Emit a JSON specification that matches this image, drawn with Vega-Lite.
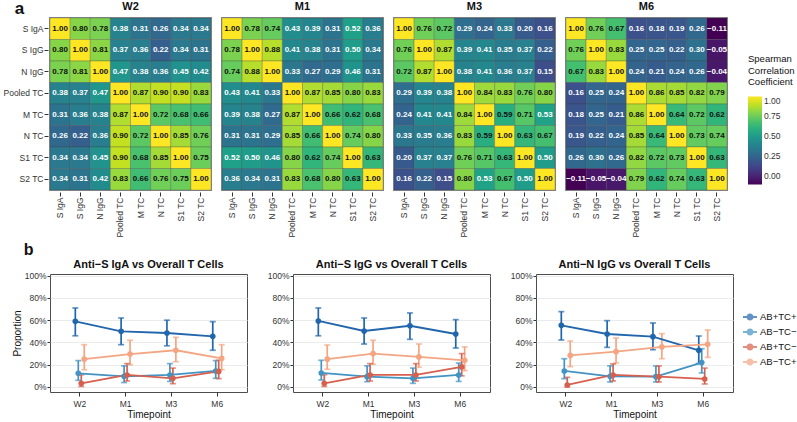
{
  "$schema": "https://vega.github.io/schema/vega-lite/v6.json",
  "padding": {"left": 2, "top": 0, "right": 0, "bottom": 0},
  "datasets": {
    "corr": [
      {"t":"W2","r":"S IgA","c":"S IgA","v":1.00},{"t":"W2","r":"S IgA","c":"S IgG","v":0.80},{"t":"W2","r":"S IgA","c":"N IgG","v":0.78},{"t":"W2","r":"S IgA","c":"Pooled TC","v":0.38},{"t":"W2","r":"S IgA","c":"M TC","v":0.31},{"t":"W2","r":"S IgA","c":"N TC","v":0.26},{"t":"W2","r":"S IgA","c":"S1 TC","v":0.34},{"t":"W2","r":"S IgA","c":"S2 TC","v":0.34},
      {"t":"W2","r":"S IgG","c":"S IgA","v":0.80},{"t":"W2","r":"S IgG","c":"S IgG","v":1.00},{"t":"W2","r":"S IgG","c":"N IgG","v":0.81},{"t":"W2","r":"S IgG","c":"Pooled TC","v":0.37},{"t":"W2","r":"S IgG","c":"M TC","v":0.36},{"t":"W2","r":"S IgG","c":"N TC","v":0.22},{"t":"W2","r":"S IgG","c":"S1 TC","v":0.34},{"t":"W2","r":"S IgG","c":"S2 TC","v":0.31},
      {"t":"W2","r":"N IgG","c":"S IgA","v":0.78},{"t":"W2","r":"N IgG","c":"S IgG","v":0.81},{"t":"W2","r":"N IgG","c":"N IgG","v":1.00},{"t":"W2","r":"N IgG","c":"Pooled TC","v":0.47},{"t":"W2","r":"N IgG","c":"M TC","v":0.38},{"t":"W2","r":"N IgG","c":"N TC","v":0.36},{"t":"W2","r":"N IgG","c":"S1 TC","v":0.45},{"t":"W2","r":"N IgG","c":"S2 TC","v":0.42},
      {"t":"W2","r":"Pooled TC","c":"S IgA","v":0.38},{"t":"W2","r":"Pooled TC","c":"S IgG","v":0.37},{"t":"W2","r":"Pooled TC","c":"N IgG","v":0.47},{"t":"W2","r":"Pooled TC","c":"Pooled TC","v":1.00},{"t":"W2","r":"Pooled TC","c":"M TC","v":0.87},{"t":"W2","r":"Pooled TC","c":"N TC","v":0.90},{"t":"W2","r":"Pooled TC","c":"S1 TC","v":0.90},{"t":"W2","r":"Pooled TC","c":"S2 TC","v":0.83},
      {"t":"W2","r":"M TC","c":"S IgA","v":0.31},{"t":"W2","r":"M TC","c":"S IgG","v":0.36},{"t":"W2","r":"M TC","c":"N IgG","v":0.38},{"t":"W2","r":"M TC","c":"Pooled TC","v":0.87},{"t":"W2","r":"M TC","c":"M TC","v":1.00},{"t":"W2","r":"M TC","c":"N TC","v":0.72},{"t":"W2","r":"M TC","c":"S1 TC","v":0.68},{"t":"W2","r":"M TC","c":"S2 TC","v":0.66},
      {"t":"W2","r":"N TC","c":"S IgA","v":0.26},{"t":"W2","r":"N TC","c":"S IgG","v":0.22},{"t":"W2","r":"N TC","c":"N IgG","v":0.36},{"t":"W2","r":"N TC","c":"Pooled TC","v":0.90},{"t":"W2","r":"N TC","c":"M TC","v":0.72},{"t":"W2","r":"N TC","c":"N TC","v":1.00},{"t":"W2","r":"N TC","c":"S1 TC","v":0.85},{"t":"W2","r":"N TC","c":"S2 TC","v":0.76},
      {"t":"W2","r":"S1 TC","c":"S IgA","v":0.34},{"t":"W2","r":"S1 TC","c":"S IgG","v":0.34},{"t":"W2","r":"S1 TC","c":"N IgG","v":0.45},{"t":"W2","r":"S1 TC","c":"Pooled TC","v":0.90},{"t":"W2","r":"S1 TC","c":"M TC","v":0.68},{"t":"W2","r":"S1 TC","c":"N TC","v":0.85},{"t":"W2","r":"S1 TC","c":"S1 TC","v":1.00},{"t":"W2","r":"S1 TC","c":"S2 TC","v":0.75},
      {"t":"W2","r":"S2 TC","c":"S IgA","v":0.34},{"t":"W2","r":"S2 TC","c":"S IgG","v":0.31},{"t":"W2","r":"S2 TC","c":"N IgG","v":0.42},{"t":"W2","r":"S2 TC","c":"Pooled TC","v":0.83},{"t":"W2","r":"S2 TC","c":"M TC","v":0.66},{"t":"W2","r":"S2 TC","c":"N TC","v":0.76},{"t":"W2","r":"S2 TC","c":"S1 TC","v":0.75},{"t":"W2","r":"S2 TC","c":"S2 TC","v":1.00},

      {"t":"M1","r":"S IgA","c":"S IgA","v":1.00},{"t":"M1","r":"S IgA","c":"S IgG","v":0.78},{"t":"M1","r":"S IgA","c":"N IgG","v":0.74},{"t":"M1","r":"S IgA","c":"Pooled TC","v":0.43},{"t":"M1","r":"S IgA","c":"M TC","v":0.39},{"t":"M1","r":"S IgA","c":"N TC","v":0.31},{"t":"M1","r":"S IgA","c":"S1 TC","v":0.52},{"t":"M1","r":"S IgA","c":"S2 TC","v":0.36},
      {"t":"M1","r":"S IgG","c":"S IgA","v":0.78},{"t":"M1","r":"S IgG","c":"S IgG","v":1.00},{"t":"M1","r":"S IgG","c":"N IgG","v":0.88},{"t":"M1","r":"S IgG","c":"Pooled TC","v":0.41},{"t":"M1","r":"S IgG","c":"M TC","v":0.38},{"t":"M1","r":"S IgG","c":"N TC","v":0.31},{"t":"M1","r":"S IgG","c":"S1 TC","v":0.50},{"t":"M1","r":"S IgG","c":"S2 TC","v":0.34},
      {"t":"M1","r":"N IgG","c":"S IgA","v":0.74},{"t":"M1","r":"N IgG","c":"S IgG","v":0.88},{"t":"M1","r":"N IgG","c":"N IgG","v":1.00},{"t":"M1","r":"N IgG","c":"Pooled TC","v":0.33},{"t":"M1","r":"N IgG","c":"M TC","v":0.27},{"t":"M1","r":"N IgG","c":"N TC","v":0.29},{"t":"M1","r":"N IgG","c":"S1 TC","v":0.46},{"t":"M1","r":"N IgG","c":"S2 TC","v":0.31},
      {"t":"M1","r":"Pooled TC","c":"S IgA","v":0.43},{"t":"M1","r":"Pooled TC","c":"S IgG","v":0.41},{"t":"M1","r":"Pooled TC","c":"N IgG","v":0.33},{"t":"M1","r":"Pooled TC","c":"Pooled TC","v":1.00},{"t":"M1","r":"Pooled TC","c":"M TC","v":0.87},{"t":"M1","r":"Pooled TC","c":"N TC","v":0.85},{"t":"M1","r":"Pooled TC","c":"S1 TC","v":0.80},{"t":"M1","r":"Pooled TC","c":"S2 TC","v":0.83},
      {"t":"M1","r":"M TC","c":"S IgA","v":0.39},{"t":"M1","r":"M TC","c":"S IgG","v":0.38},{"t":"M1","r":"M TC","c":"N IgG","v":0.27},{"t":"M1","r":"M TC","c":"Pooled TC","v":0.87},{"t":"M1","r":"M TC","c":"M TC","v":1.00},{"t":"M1","r":"M TC","c":"N TC","v":0.66},{"t":"M1","r":"M TC","c":"S1 TC","v":0.62},{"t":"M1","r":"M TC","c":"S2 TC","v":0.68},
      {"t":"M1","r":"N TC","c":"S IgA","v":0.31},{"t":"M1","r":"N TC","c":"S IgG","v":0.31},{"t":"M1","r":"N TC","c":"N IgG","v":0.29},{"t":"M1","r":"N TC","c":"Pooled TC","v":0.85},{"t":"M1","r":"N TC","c":"M TC","v":0.66},{"t":"M1","r":"N TC","c":"N TC","v":1.00},{"t":"M1","r":"N TC","c":"S1 TC","v":0.74},{"t":"M1","r":"N TC","c":"S2 TC","v":0.80},
      {"t":"M1","r":"S1 TC","c":"S IgA","v":0.52},{"t":"M1","r":"S1 TC","c":"S IgG","v":0.50},{"t":"M1","r":"S1 TC","c":"N IgG","v":0.46},{"t":"M1","r":"S1 TC","c":"Pooled TC","v":0.80},{"t":"M1","r":"S1 TC","c":"M TC","v":0.62},{"t":"M1","r":"S1 TC","c":"N TC","v":0.74},{"t":"M1","r":"S1 TC","c":"S1 TC","v":1.00},{"t":"M1","r":"S1 TC","c":"S2 TC","v":0.63},
      {"t":"M1","r":"S2 TC","c":"S IgA","v":0.36},{"t":"M1","r":"S2 TC","c":"S IgG","v":0.34},{"t":"M1","r":"S2 TC","c":"N IgG","v":0.31},{"t":"M1","r":"S2 TC","c":"Pooled TC","v":0.83},{"t":"M1","r":"S2 TC","c":"M TC","v":0.68},{"t":"M1","r":"S2 TC","c":"N TC","v":0.80},{"t":"M1","r":"S2 TC","c":"S1 TC","v":0.63},{"t":"M1","r":"S2 TC","c":"S2 TC","v":1.00},

      {"t":"M3","r":"S IgA","c":"S IgA","v":1.00},{"t":"M3","r":"S IgA","c":"S IgG","v":0.76},{"t":"M3","r":"S IgA","c":"N IgG","v":0.72},{"t":"M3","r":"S IgA","c":"Pooled TC","v":0.29},{"t":"M3","r":"S IgA","c":"M TC","v":0.24},{"t":"M3","r":"S IgA","c":"N TC","v":0.33},{"t":"M3","r":"S IgA","c":"S1 TC","v":0.20},{"t":"M3","r":"S IgA","c":"S2 TC","v":0.16},
      {"t":"M3","r":"S IgG","c":"S IgA","v":0.76},{"t":"M3","r":"S IgG","c":"S IgG","v":1.00},{"t":"M3","r":"S IgG","c":"N IgG","v":0.87},{"t":"M3","r":"S IgG","c":"Pooled TC","v":0.39},{"t":"M3","r":"S IgG","c":"M TC","v":0.41},{"t":"M3","r":"S IgG","c":"N TC","v":0.35},{"t":"M3","r":"S IgG","c":"S1 TC","v":0.37},{"t":"M3","r":"S IgG","c":"S2 TC","v":0.22},
      {"t":"M3","r":"N IgG","c":"S IgA","v":0.72},{"t":"M3","r":"N IgG","c":"S IgG","v":0.87},{"t":"M3","r":"N IgG","c":"N IgG","v":1.00},{"t":"M3","r":"N IgG","c":"Pooled TC","v":0.38},{"t":"M3","r":"N IgG","c":"M TC","v":0.41},{"t":"M3","r":"N IgG","c":"N TC","v":0.36},{"t":"M3","r":"N IgG","c":"S1 TC","v":0.37},{"t":"M3","r":"N IgG","c":"S2 TC","v":0.15},
      {"t":"M3","r":"Pooled TC","c":"S IgA","v":0.29},{"t":"M3","r":"Pooled TC","c":"S IgG","v":0.39},{"t":"M3","r":"Pooled TC","c":"N IgG","v":0.38},{"t":"M3","r":"Pooled TC","c":"Pooled TC","v":1.00},{"t":"M3","r":"Pooled TC","c":"M TC","v":0.84},{"t":"M3","r":"Pooled TC","c":"N TC","v":0.83},{"t":"M3","r":"Pooled TC","c":"S1 TC","v":0.76},{"t":"M3","r":"Pooled TC","c":"S2 TC","v":0.80},
      {"t":"M3","r":"M TC","c":"S IgA","v":0.24},{"t":"M3","r":"M TC","c":"S IgG","v":0.41},{"t":"M3","r":"M TC","c":"N IgG","v":0.41},{"t":"M3","r":"M TC","c":"Pooled TC","v":0.84},{"t":"M3","r":"M TC","c":"M TC","v":1.00},{"t":"M3","r":"M TC","c":"N TC","v":0.59},{"t":"M3","r":"M TC","c":"S1 TC","v":0.71},{"t":"M3","r":"M TC","c":"S2 TC","v":0.53},
      {"t":"M3","r":"N TC","c":"S IgA","v":0.33},{"t":"M3","r":"N TC","c":"S IgG","v":0.35},{"t":"M3","r":"N TC","c":"N IgG","v":0.36},{"t":"M3","r":"N TC","c":"Pooled TC","v":0.83},{"t":"M3","r":"N TC","c":"M TC","v":0.59},{"t":"M3","r":"N TC","c":"N TC","v":1.00},{"t":"M3","r":"N TC","c":"S1 TC","v":0.63},{"t":"M3","r":"N TC","c":"S2 TC","v":0.67},
      {"t":"M3","r":"S1 TC","c":"S IgA","v":0.20},{"t":"M3","r":"S1 TC","c":"S IgG","v":0.37},{"t":"M3","r":"S1 TC","c":"N IgG","v":0.37},{"t":"M3","r":"S1 TC","c":"Pooled TC","v":0.76},{"t":"M3","r":"S1 TC","c":"M TC","v":0.71},{"t":"M3","r":"S1 TC","c":"N TC","v":0.63},{"t":"M3","r":"S1 TC","c":"S1 TC","v":1.00},{"t":"M3","r":"S1 TC","c":"S2 TC","v":0.50},
      {"t":"M3","r":"S2 TC","c":"S IgA","v":0.16},{"t":"M3","r":"S2 TC","c":"S IgG","v":0.22},{"t":"M3","r":"S2 TC","c":"N IgG","v":0.15},{"t":"M3","r":"S2 TC","c":"Pooled TC","v":0.80},{"t":"M3","r":"S2 TC","c":"M TC","v":0.53},{"t":"M3","r":"S2 TC","c":"N TC","v":0.67},{"t":"M3","r":"S2 TC","c":"S1 TC","v":0.50},{"t":"M3","r":"S2 TC","c":"S2 TC","v":1.00},

      {"t":"M6","r":"S IgA","c":"S IgA","v":1.00},{"t":"M6","r":"S IgA","c":"S IgG","v":0.76},{"t":"M6","r":"S IgA","c":"N IgG","v":0.67},{"t":"M6","r":"S IgA","c":"Pooled TC","v":0.16},{"t":"M6","r":"S IgA","c":"M TC","v":0.18},{"t":"M6","r":"S IgA","c":"N TC","v":0.19},{"t":"M6","r":"S IgA","c":"S1 TC","v":0.26},{"t":"M6","r":"S IgA","c":"S2 TC","v":-0.11},
      {"t":"M6","r":"S IgG","c":"S IgA","v":0.76},{"t":"M6","r":"S IgG","c":"S IgG","v":1.00},{"t":"M6","r":"S IgG","c":"N IgG","v":0.83},{"t":"M6","r":"S IgG","c":"Pooled TC","v":0.25},{"t":"M6","r":"S IgG","c":"M TC","v":0.25},{"t":"M6","r":"S IgG","c":"N TC","v":0.22},{"t":"M6","r":"S IgG","c":"S1 TC","v":0.30},{"t":"M6","r":"S IgG","c":"S2 TC","v":-0.05},
      {"t":"M6","r":"N IgG","c":"S IgA","v":0.67},{"t":"M6","r":"N IgG","c":"S IgG","v":0.83},{"t":"M6","r":"N IgG","c":"N IgG","v":1.00},{"t":"M6","r":"N IgG","c":"Pooled TC","v":0.24},{"t":"M6","r":"N IgG","c":"M TC","v":0.21},{"t":"M6","r":"N IgG","c":"N TC","v":0.24},{"t":"M6","r":"N IgG","c":"S1 TC","v":0.26},{"t":"M6","r":"N IgG","c":"S2 TC","v":-0.04},
      {"t":"M6","r":"Pooled TC","c":"S IgA","v":0.16},{"t":"M6","r":"Pooled TC","c":"S IgG","v":0.25},{"t":"M6","r":"Pooled TC","c":"N IgG","v":0.24},{"t":"M6","r":"Pooled TC","c":"Pooled TC","v":1.00},{"t":"M6","r":"Pooled TC","c":"M TC","v":0.86},{"t":"M6","r":"Pooled TC","c":"N TC","v":0.85},{"t":"M6","r":"Pooled TC","c":"S1 TC","v":0.82},{"t":"M6","r":"Pooled TC","c":"S2 TC","v":0.79},
      {"t":"M6","r":"M TC","c":"S IgA","v":0.18},{"t":"M6","r":"M TC","c":"S IgG","v":0.25},{"t":"M6","r":"M TC","c":"N IgG","v":0.21},{"t":"M6","r":"M TC","c":"Pooled TC","v":0.86},{"t":"M6","r":"M TC","c":"M TC","v":1.00},{"t":"M6","r":"M TC","c":"N TC","v":0.64},{"t":"M6","r":"M TC","c":"S1 TC","v":0.72},{"t":"M6","r":"M TC","c":"S2 TC","v":0.62},
      {"t":"M6","r":"N TC","c":"S IgA","v":0.19},{"t":"M6","r":"N TC","c":"S IgG","v":0.22},{"t":"M6","r":"N TC","c":"N IgG","v":0.24},{"t":"M6","r":"N TC","c":"Pooled TC","v":0.85},{"t":"M6","r":"N TC","c":"M TC","v":0.64},{"t":"M6","r":"N TC","c":"N TC","v":1.00},{"t":"M6","r":"N TC","c":"S1 TC","v":0.73},{"t":"M6","r":"N TC","c":"S2 TC","v":0.74},
      {"t":"M6","r":"S1 TC","c":"S IgA","v":0.26},{"t":"M6","r":"S1 TC","c":"S IgG","v":0.30},{"t":"M6","r":"S1 TC","c":"N IgG","v":0.26},{"t":"M6","r":"S1 TC","c":"Pooled TC","v":0.82},{"t":"M6","r":"S1 TC","c":"M TC","v":0.72},{"t":"M6","r":"S1 TC","c":"N TC","v":0.73},{"t":"M6","r":"S1 TC","c":"S1 TC","v":1.00},{"t":"M6","r":"S1 TC","c":"S2 TC","v":0.63},
      {"t":"M6","r":"S2 TC","c":"S IgA","v":-0.11},{"t":"M6","r":"S2 TC","c":"S IgG","v":-0.05},{"t":"M6","r":"S2 TC","c":"N IgG","v":-0.04},{"t":"M6","r":"S2 TC","c":"Pooled TC","v":0.79},{"t":"M6","r":"S2 TC","c":"M TC","v":0.62},{"t":"M6","r":"S2 TC","c":"N TC","v":0.74},{"t":"M6","r":"S2 TC","c":"S1 TC","v":0.63},{"t":"M6","r":"S2 TC","c":"S2 TC","v":1.00}
    ],
    "prop": [
      {"p":"A","g":"AB+TC+","tp":"W2","m":0.59,"lo":0.46,"hi":0.71},
      {"p":"A","g":"AB+TC+","tp":"M1","m":0.50,"lo":0.38,"hi":0.62},
      {"p":"A","g":"AB+TC+","tp":"M3","m":0.485,"lo":0.37,"hi":0.60},
      {"p":"A","g":"AB+TC+","tp":"M6","m":0.455,"lo":0.33,"hi":0.587},
      {"p":"A","g":"AB−TC−","tp":"W2","m":0.123,"lo":0.06,"hi":0.237},
      {"p":"A","g":"AB−TC−","tp":"M1","m":0.096,"lo":0.04,"hi":0.19},
      {"p":"A","g":"AB−TC−","tp":"M3","m":0.108,"lo":0.05,"hi":0.21},
      {"p":"A","g":"AB−TC−","tp":"M6","m":0.144,"lo":0.078,"hi":0.237},
      {"p":"A","g":"AB+TC−","tp":"W2","m":0.033,"lo":0.005,"hi":0.11},
      {"p":"A","g":"AB+TC−","tp":"M1","m":0.108,"lo":0.054,"hi":0.21},
      {"p":"A","g":"AB+TC−","tp":"M3","m":0.078,"lo":0.03,"hi":0.17},
      {"p":"A","g":"AB+TC−","tp":"M6","m":0.14,"lo":0.075,"hi":0.24},
      {"p":"A","g":"AB−TC+","tp":"W2","m":0.25,"lo":0.155,"hi":0.38},
      {"p":"A","g":"AB−TC+","tp":"M1","m":0.296,"lo":0.20,"hi":0.42},
      {"p":"A","g":"AB−TC+","tp":"M3","m":0.33,"lo":0.227,"hi":0.446},
      {"p":"A","g":"AB−TC+","tp":"M6","m":0.257,"lo":0.155,"hi":0.38},
      {"p":"B","g":"AB+TC+","tp":"W2","m":0.593,"lo":0.46,"hi":0.71},
      {"p":"B","g":"AB+TC+","tp":"M1","m":0.503,"lo":0.386,"hi":0.62},
      {"p":"B","g":"AB+TC+","tp":"M3","m":0.55,"lo":0.428,"hi":0.665},
      {"p":"B","g":"AB+TC+","tp":"M6","m":0.476,"lo":0.35,"hi":0.605},
      {"p":"B","g":"AB−TC−","tp":"W2","m":0.126,"lo":0.063,"hi":0.24},
      {"p":"B","g":"AB−TC−","tp":"M1","m":0.093,"lo":0.048,"hi":0.19},
      {"p":"B","g":"AB−TC−","tp":"M3","m":0.078,"lo":0.033,"hi":0.17},
      {"p":"B","g":"AB−TC−","tp":"M6","m":0.108,"lo":0.05,"hi":0.215},
      {"p":"B","g":"AB+TC−","tp":"W2","m":0.033,"lo":0.005,"hi":0.11},
      {"p":"B","g":"AB+TC−","tp":"M1","m":0.108,"lo":0.054,"hi":0.21},
      {"p":"B","g":"AB+TC−","tp":"M3","m":0.108,"lo":0.054,"hi":0.21},
      {"p":"B","g":"AB+TC−","tp":"M6","m":0.18,"lo":0.10,"hi":0.30},
      {"p":"B","g":"AB−TC+","tp":"W2","m":0.25,"lo":0.159,"hi":0.377},
      {"p":"B","g":"AB−TC+","tp":"M1","m":0.30,"lo":0.204,"hi":0.42},
      {"p":"B","g":"AB−TC+","tp":"M3","m":0.27,"lo":0.177,"hi":0.386},
      {"p":"B","g":"AB−TC+","tp":"M6","m":0.24,"lo":0.147,"hi":0.36},
      {"p":"C","g":"AB+TC+","tp":"W2","m":0.554,"lo":0.422,"hi":0.677},
      {"p":"C","g":"AB+TC+","tp":"M1","m":0.476,"lo":0.356,"hi":0.596},
      {"p":"C","g":"AB+TC+","tp":"M3","m":0.452,"lo":0.335,"hi":0.575},
      {"p":"C","g":"AB+TC+","tp":"M6","m":0.329,"lo":0.21,"hi":0.458},
      {"p":"C","g":"AB−TC−","tp":"W2","m":0.144,"lo":0.075,"hi":0.254},
      {"p":"C","g":"AB−TC−","tp":"M1","m":0.096,"lo":0.045,"hi":0.19},
      {"p":"C","g":"AB−TC−","tp":"M3","m":0.093,"lo":0.045,"hi":0.189},
      {"p":"C","g":"AB−TC−","tp":"M6","m":0.219,"lo":0.126,"hi":0.344},
      {"p":"C","g":"AB+TC−","tp":"W2","m":0.018,"lo":0.0,"hi":0.087},
      {"p":"C","g":"AB+TC−","tp":"M1","m":0.108,"lo":0.054,"hi":0.207},
      {"p":"C","g":"AB+TC−","tp":"M3","m":0.093,"lo":0.045,"hi":0.189},
      {"p":"C","g":"AB+TC−","tp":"M6","m":0.072,"lo":0.027,"hi":0.17},
      {"p":"C","g":"AB−TC+","tp":"W2","m":0.284,"lo":0.183,"hi":0.413},
      {"p":"C","g":"AB−TC+","tp":"M1","m":0.317,"lo":0.216,"hi":0.44},
      {"p":"C","g":"AB−TC+","tp":"M3","m":0.36,"lo":0.254,"hi":0.479},
      {"p":"C","g":"AB−TC+","tp":"M6","m":0.383,"lo":0.266,"hi":0.512}
    ]
  },
  "spacing": 4,
  "resolve": {"scale": {"color": "independent"}},
  "vconcat": [
    {
      "data": {"name": "corr"},
      "title": {"text": "a", "anchor": "start", "frame": "bounds", "fontSize": 17, "fontWeight": "bold", "dx": 12, "offset": -17},
      "facet": {"column": {"field": "t", "type": "nominal", "sort": ["W2", "M1", "M3", "M6"], "header": {"title": null, "labelFontSize": 11, "labelFontWeight": "bold", "labelPadding": 4, "labelColor": "#111"}}},
      "spacing": {"column": 7},
      "spec": {
        "width": 161,
        "height": 172,
        "view": {"stroke": "#8a8a8a", "strokeWidth": 2},
        "encoding": {
          "x": {"field": "c", "type": "nominal", "sort": ["S IgA", "S IgG", "N IgG", "Pooled TC", "M TC", "N TC", "S1 TC", "S2 TC"], "axis": {"title": null, "labelAngle": -90, "tickSize": 4, "labelPadding": 1, "domain": false}},
          "y": {"field": "r", "type": "nominal", "sort": ["S IgA", "S IgG", "N IgG", "Pooled TC", "M TC", "N TC", "S1 TC", "S2 TC"], "axis": {"title": null, "tickSize": 4, "domain": false}}
        },
        "layer": [
          {
            "mark": {"type": "rect", "stroke": "#3a3a3a", "strokeWidth": 0.4, "strokeOpacity": 0.7},
            "encoding": {
              "color": {"field": "v", "type": "quantitative", "scale": {"scheme": "viridis", "domain": [-0.11, 1]},
                "legend": {"title": ["Spearman", "Correlation", "Coefficient"], "values": [0, 0.25, 0.5, 0.75, 1], "format": ".2f", "gradientLength": 88, "gradientThickness": 14, "titleFontSize": 9.5, "titleFontWeight": "normal", "titleColor": "#111", "labelFontSize": 8.5, "labelColor": "#333", "titlePadding": 10, "offset": 19}}
            }
          },
          {
            "mark": {"type": "text", "fontSize": 8, "fontWeight": "bold"},
            "encoding": {
              "text": {"field": "v", "type": "quantitative", "format": ".2f"},
              "color": {"condition": {"test": "datum.v > 0.56", "value": "#111111"}, "value": "#ffffff"}
            }
          }
        ]
      }
    },
    {
      "title": {"text": "b", "anchor": "start", "frame": "bounds", "fontSize": 16, "fontWeight": "bold", "dx": 12, "offset": 0},
      "data": {"name": "prop"},
      "spacing": 18,
      "resolve": {"scale": {"color": "shared"}},
      "hconcat": [
        {
          "width": 197, "height": 118,
          "title": {"text": "Anti−S IgA vs Overall T Cells"},
          "transform": [{"filter": "datum.p == 'A'"}],
          "encoding": {
            "x": {"field": "tp", "type": "ordinal", "sort": ["W2", "M1", "M3", "M6"], "scale": {"paddingInner": 0.74, "paddingOuter": 0.52}, "axis": {"title": "Timepoint", "labelAngle": 0, "tickSize": 4, "labelPadding": 3, "titlePadding": 2}},
            "xOffset": {"field": "g", "type": "nominal", "sort": ["AB+TC+", "AB−TC−", "AB+TC−", "AB−TC+"], "scale": {"paddingInner": 0, "paddingOuter": 0}},
            "color": {"field": "g", "type": "nominal", "scale": {"domain": ["AB+TC+", "AB−TC−", "AB+TC−", "AB−TC+"], "range": ["#2166AC", "#4393C3", "#D6604D", "#F4A582"]},
              "legend": {"title": null, "padding": 0, "rowPadding": 0, "labelFontSize": 9.5, "labelColor": "#111", "labelOffset": 2, "symbolType": "M-1,0L1,0M-0.38,0a0.38,0.38 0 1,0 0.76,0a0.38,0.38 0 1,0 -0.76,0", "symbolSize": 196, "symbolStrokeWidth": 1.8, "offset": 8}}
          },
          "layer": [
            {"mark": {"type": "rule", "strokeWidth": 1.7}, "encoding": {"y": {"field": "lo", "type": "quantitative", "scale": {"domain": [-0.045, 1.015], "nice": false}, "axis": {"title": "Proportion", "values": [0, 0.2, 0.4, 0.6, 0.8, 1], "format": ".0%", "grid": true}}, "y2": {"field": "hi"}}},
            {"mark": {"type": "tick", "size": 6, "thickness": 1.7}, "encoding": {"y": {"field": "lo", "type": "quantitative", "axis": {"title": "Proportion", "values": [0, 0.2, 0.4, 0.6, 0.8, 1], "format": ".0%", "grid": true}}}},
            {"mark": {"type": "tick", "size": 6, "thickness": 1.7}, "encoding": {"y": {"field": "hi", "type": "quantitative", "axis": {"title": "Proportion", "values": [0, 0.2, 0.4, 0.6, 0.8, 1], "format": ".0%", "grid": true}}}},
            {"mark": {"type": "line", "strokeWidth": 1.8}, "encoding": {"y": {"field": "m", "type": "quantitative", "axis": {"title": "Proportion", "values": [0, 0.2, 0.4, 0.6, 0.8, 1], "format": ".0%", "grid": true}}}},
            {"mark": {"type": "point", "filled": true, "size": 32, "opacity": 1}, "encoding": {"y": {"field": "m", "type": "quantitative", "axis": {"title": "Proportion", "values": [0, 0.2, 0.4, 0.6, 0.8, 1], "format": ".0%", "grid": true}}}}
          ]
        },
        {
          "width": 197, "height": 118,
          "title": {"text": "Anti−S IgG vs Overall T Cells"},
          "transform": [{"filter": "datum.p == 'B'"}],
          "encoding": {
            "x": {"field": "tp", "type": "ordinal", "sort": ["W2", "M1", "M3", "M6"], "scale": {"paddingInner": 0.74, "paddingOuter": 0.52}, "axis": {"title": "Timepoint", "labelAngle": 0, "tickSize": 4, "labelPadding": 3, "titlePadding": 2}},
            "xOffset": {"field": "g", "type": "nominal", "sort": ["AB+TC+", "AB−TC−", "AB+TC−", "AB−TC+"], "scale": {"paddingInner": 0, "paddingOuter": 0}},
            "color": {"field": "g", "type": "nominal", "scale": {"domain": ["AB+TC+", "AB−TC−", "AB+TC−", "AB−TC+"], "range": ["#2166AC", "#4393C3", "#D6604D", "#F4A582"]}}
          },
          "layer": [
            {"mark": {"type": "rule", "strokeWidth": 1.7}, "encoding": {"y": {"field": "lo", "type": "quantitative", "scale": {"domain": [-0.045, 1.015], "nice": false}, "axis": {"title": null, "values": [0, 0.2, 0.4, 0.6, 0.8, 1], "format": ".0%", "grid": true}}, "y2": {"field": "hi"}}},
            {"mark": {"type": "tick", "size": 6, "thickness": 1.7}, "encoding": {"y": {"field": "lo", "type": "quantitative", "axis": {"title": null, "values": [0, 0.2, 0.4, 0.6, 0.8, 1], "format": ".0%", "grid": true}}}},
            {"mark": {"type": "tick", "size": 6, "thickness": 1.7}, "encoding": {"y": {"field": "hi", "type": "quantitative", "axis": {"title": null, "values": [0, 0.2, 0.4, 0.6, 0.8, 1], "format": ".0%", "grid": true}}}},
            {"mark": {"type": "line", "strokeWidth": 1.8}, "encoding": {"y": {"field": "m", "type": "quantitative", "axis": {"title": null, "values": [0, 0.2, 0.4, 0.6, 0.8, 1], "format": ".0%", "grid": true}}}},
            {"mark": {"type": "point", "filled": true, "size": 32, "opacity": 1}, "encoding": {"y": {"field": "m", "type": "quantitative", "axis": {"title": null, "values": [0, 0.2, 0.4, 0.6, 0.8, 1], "format": ".0%", "grid": true}}}}
          ]
        },
        {
          "width": 197, "height": 118,
          "title": {"text": "Anti−N IgG vs Overall T Cells"},
          "transform": [{"filter": "datum.p == 'C'"}],
          "encoding": {
            "x": {"field": "tp", "type": "ordinal", "sort": ["W2", "M1", "M3", "M6"], "scale": {"paddingInner": 0.74, "paddingOuter": 0.52}, "axis": {"title": "Timepoint", "labelAngle": 0, "tickSize": 4, "labelPadding": 3, "titlePadding": 2}},
            "xOffset": {"field": "g", "type": "nominal", "sort": ["AB+TC+", "AB−TC−", "AB+TC−", "AB−TC+"], "scale": {"paddingInner": 0, "paddingOuter": 0}},
            "color": {"field": "g", "type": "nominal", "scale": {"domain": ["AB+TC+", "AB−TC−", "AB+TC−", "AB−TC+"], "range": ["#2166AC", "#4393C3", "#D6604D", "#F4A582"]}}
          },
          "layer": [
            {"mark": {"type": "rule", "strokeWidth": 1.7}, "encoding": {"y": {"field": "lo", "type": "quantitative", "scale": {"domain": [-0.045, 1.015], "nice": false}, "axis": {"title": null, "values": [0, 0.2, 0.4, 0.6, 0.8, 1], "format": ".0%", "grid": true}}, "y2": {"field": "hi"}}},
            {"mark": {"type": "tick", "size": 6, "thickness": 1.7}, "encoding": {"y": {"field": "lo", "type": "quantitative", "axis": {"title": null, "values": [0, 0.2, 0.4, 0.6, 0.8, 1], "format": ".0%", "grid": true}}}},
            {"mark": {"type": "tick", "size": 6, "thickness": 1.7}, "encoding": {"y": {"field": "hi", "type": "quantitative", "axis": {"title": null, "values": [0, 0.2, 0.4, 0.6, 0.8, 1], "format": ".0%", "grid": true}}}},
            {"mark": {"type": "line", "strokeWidth": 1.8}, "encoding": {"y": {"field": "m", "type": "quantitative", "axis": {"title": null, "values": [0, 0.2, 0.4, 0.6, 0.8, 1], "format": ".0%", "grid": true}}}},
            {"mark": {"type": "point", "filled": true, "size": 32, "opacity": 1}, "encoding": {"y": {"field": "m", "type": "quantitative", "axis": {"title": null, "values": [0, 0.2, 0.4, 0.6, 0.8, 1], "format": ".0%", "grid": true}}}}
          ]
        }
      ]
    }
  ],
  "config": {
    "font": "Liberation Sans",
    "view": {"stroke": "#4d4d4d", "strokeWidth": 1},
    "axis": {"labelFontSize": 8.5, "labelColor": "#333333", "tickColor": "#333333", "titleFontSize": 10, "titleFontWeight": "normal", "titleColor": "#111111", "domain": false, "grid": false, "tickSize": 3, "labelPadding": 1, "titlePadding": 2, "gridColor": "#ebebeb", "gridWidth": 1.2},
    "title": {"fontSize": 11, "fontWeight": "bold", "color": "#111111", "offset": 2},
    "legend": {"layout": {"right": {"anchor": "middle"}}}
  }
}
